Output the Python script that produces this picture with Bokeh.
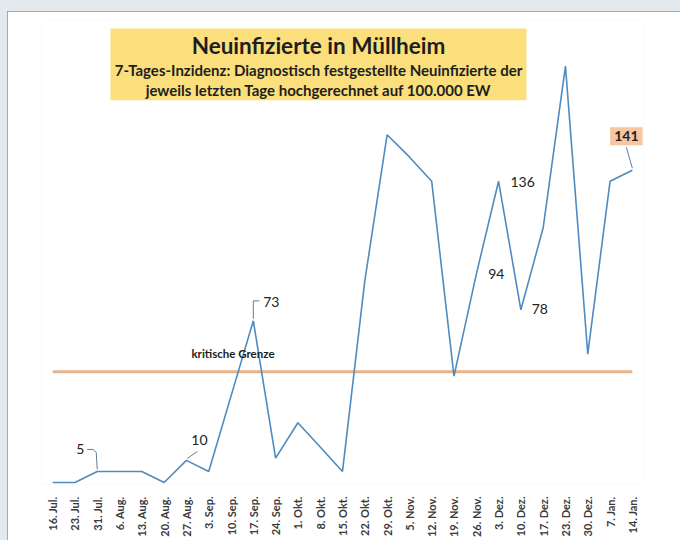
import math
from bokeh.plotting import figure
from bokeh.models import (FactorRange, Range1d, BoxAnnotation, Label,
                          ColumnDataSource, GlobalInlineStyleSheet)
from bokeh.core.properties import value
from bokeh.embed import file_html
from bokeh.resources import INLINE

# ---------------- data ----------------
dates = ["16. Jul.", "23. Jul.", "31. Jul.", "6. Aug.", "13. Aug.", "20. Aug.",
         "27. Aug.", "3. Sep.", "10. Sep.", "17. Sep.", "24. Sep.", "1. Okt.",
         "8. Okt.", "15. Okt.", "22. Okt.", "29. Okt.", "5. Nov.", "12. Nov.",
         "19. Nov.", "26. Nov.", "3. Dez.", "10. Dez.", "17. Dez.", "23. Dez.",
         "30. Dez.", "7. Jan.", "14. Jan."]
incidence = [0, 0, 5, 5, 5, 0, 10, 5, 39, 73, 11, 27, 16, 5, 91, 157, 147, 136,
             48, 94, 136, 78, 115, 188, 58, 136, 141]
critical_limit = 50
labeled_dates = ["31. Jul.", "27. Aug.", "17. Sep.", "26. Nov.", "3. Dez.", "10. Dez."]
highlight_date = "14. Jan."

title = "Neuinfizierte in Müllheim"
subtitle1 = "7-Tages-Inzidenz: Diagnostisch festgestellte Neuinfizierte der"
subtitle2 = "jeweils letzten Tage hochgerechnet auf 100.000 EW"
limit_text = "kritische Grenze"

# ---------------- layout ----------------
OX, OY = 7, 11            # page position of the white panel
W, H = 673, 529
BL, BR, BT, BB = 34, 37, 9, 55
FW = W - BL - BR
FH = H - BT - BB
Y0, Y1 = -0.9, 208.6
PXX = FW / len(dates)
PXY = FH / (Y1 - Y0)
FONT = "Lato"
FRAME_LEFT = OX + BL
FRAME_BOTTOM = OY + H - BB


def cat(d):
    # synthetic coordinate of a category centre
    return dates.index(d) + 0.5


def sx(px):
    return (px - FRAME_LEFT) / PXX


def sy(py):
    return Y0 + (FRAME_BOTTOM - py) / PXY


p = figure(x_range=FactorRange(factors=dates, range_padding=0),
           y_range=Range1d(Y0, Y1), width=W, height=H,
           output_backend="svg", toolbar_location=None,
           y_axis_location=None,
           min_border_left=BL, min_border_right=BR,
           min_border_top=BT, min_border_bottom=BB)
p.outline_line_color = None
p.background_fill_color = "white"
p.border_fill_color = "white"
p.grid.visible = False
p.stylesheets = [GlobalInlineStyleSheet(
    css="html, body { margin: 0; background: #e4e9ee; } "
        "body { padding: %dpx 0 0 %dpx; box-sizing: border-box; overflow: hidden; }" % (OY, OX))]
p.styles = {"outline": "1px solid #7196b6", "outline-offset": "-1px"}

ax = p.xaxis[0]
ax.axis_line_color = None
ax.major_tick_line_color = None
ax.minor_tick_line_color = None
ax.major_label_orientation = math.pi / 2
ax.major_label_standoff = 6
ax.major_label_text_font = FONT
ax.major_label_text_font_style = "bold"
ax.major_label_text_font_size = "11px"
ax.major_label_text_color = "#3a3a3a"

# title box
p.add_layout(BoxAnnotation(left=sx(110), right=sx(526), top=sy(28), bottom=sy(100),
                           fill_color="#fbdf7c", fill_alpha=1, line_color=None,
                           level="underlay"))
cx = (sx(110) + sx(526)) / 2
for txt, ypx, size in [(title, 45, "22.5px"),
                       (subtitle1, 70, "15px"),
                       (subtitle2, 90, "15px")]:
    p.add_layout(Label(x=cx, y=sy(ypx), text=txt, text_align="center",
                       text_baseline="middle", text_font=FONT,
                       text_font_size=size, text_font_style="bold",
                       text_color="#1e1e1e"))

# critical line
p.line(dates, [critical_limit] * len(dates), line_color="#e8b48a", line_width=3)
p.add_layout(Label(x=cat("10. Sep."), y=critical_limit, x_offset=2, y_offset=18,
                   text=limit_text, text_align="center", text_baseline="middle",
                   text_font=FONT, text_font_style="bold", text_font_size="11.5px",
                   text_color="#222222"))

# main line
p.line(dates, incidence, line_color="#4f8bbf", line_width=1.6)

# data labels
offsets = {"31. Jul.": (-17, -22), "27. Aug.": (13, -20), "17. Sep.": (18, -19),
           "26. Nov.": (20, 0), "3. Dez.": (24, 1), "10. Dez.": (19, -1)}
lx, ly, lt, ldx, ldy = [], [], [], [], []
for d in labeled_dates:
    i = dates.index(d)
    lx.append(d)
    ly.append(incidence[i])
    lt.append(str(incidence[i]))
    ldx.append(offsets[d][0])
    ldy.append(offsets[d][1])
src = ColumnDataSource(dict(x=lx, y=ly, t=lt, dx=ldx, dy=ldy))
p.text(x="x", y="y", text="t", x_offset="dx", y_offset="dy", source=src,
       text_align="center", text_baseline="middle", text_font=value(FONT),
       text_font_size="14px", text_color="#222222")

hi = dates.index(highlight_date)
p.add_layout(Label(x=cat(highlight_date), y=incidence[hi], x_offset=-6, y_offset=34,
                   text=str(incidence[hi]), text_align="center", text_baseline="middle",
                   text_font=FONT, text_font_size="14px", text_font_style="bold",
                   text_color="#222222", background_fill_color="#f6c6a0",
                   background_fill_alpha=1, padding=4))

# leader lines (pixel offsets from the labelled point)
leaders = {"31. Jul.": [(-10, -22), (-4, -22), (-1, -19), (0, -2)],
           "27. Aug.": [(11, -9), (1, -2)],
           "17. Sep.": [(0, -2), (0, -20), (6, -20)],
           "14. Jan.": [(-6, -23), (0, -2)]}
for d, pts in leaders.items():
    i = dates.index(d)
    xs = [i + 0.5 + dx / PXX for dx, dy in pts]
    ys = [incidence[i] - dy / PXY for dx, dy in pts]
    p.line(xs, ys, line_color="#5a7fa0", line_width=1)

open("out.html", "w").write(file_html(p, INLINE))
